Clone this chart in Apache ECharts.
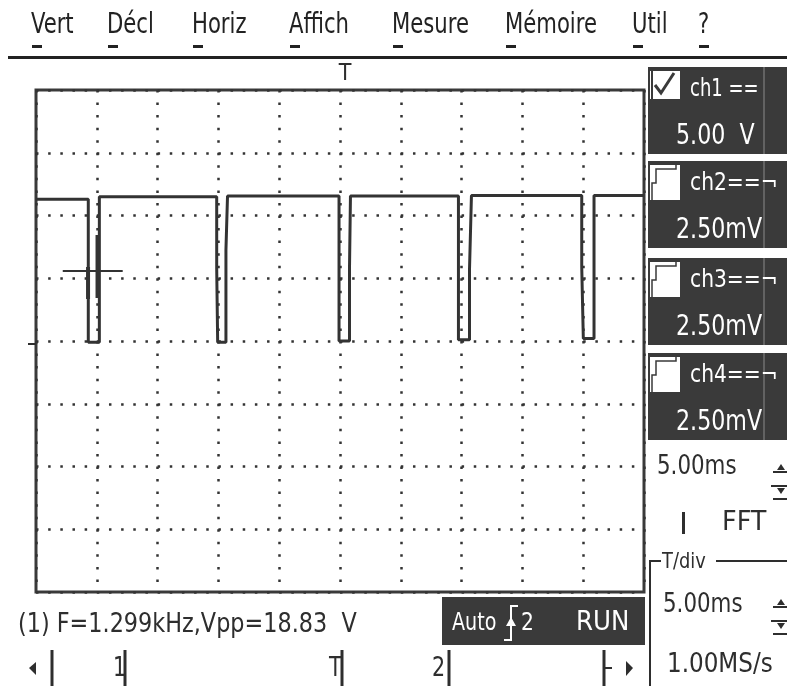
<!DOCTYPE html>
<html>
<head>
<meta charset="utf-8">
<script src="https://cdn.jsdelivr.net/npm/echarts@6/dist/echarts.min.js"></script>
<style>
html,body{margin:0;padding:0;background:#fff;}
#c{width:787px;height:686px;}
</style>
</head>
<body>
<div id="c"></div>
<script>
// ---- data (time in ms, 5 ms/div; voltage in V, 5 V/div) ----
var times = [0, 4.30, 4.30, 5.21, 5.21, 14.86, 14.86, 14.94, 14.94, 15.62, 15.62, 15.75, 15.75,
             24.92, 24.92, 25.78, 25.78, 25.86, 25.86, 34.74, 34.74, 35.65, 35.65, 35.81, 35.81,
             44.88, 44.88, 45.01, 45.01, 45.89, 45.89, 50];
var volts = [11.3, 11.3, -0.1, -0.1, 11.5, 11.5, 5.8, 5.8, -0.1, -0.1, 7.25, 7.25, 11.55,
             11.55, 0, 0, 5.7, 5.7, 11.55, 11.55, 0.1, 0.1, 5.7, 5.7, 11.6,
             11.6, 5.9, 5.9, 0.2, 0.2, 11.6, 11.6];
var cursorTimes = [2.2, 7.13];
var cursorLevel = 5.58;
var barTimes = [4.28, 5.06];
var barTop = [5.9, 8.45];
var barBottom = [3.35, 3.43];
var menuItems = ['Vert', 'Décl', 'Horiz', 'Affich', 'Mesure', 'Mémoire', 'Util', '?'];
var channels = ['ch1 ==', 'ch2==¬', 'ch3==¬', 'ch4==¬'];
var channelScales = ['5.00  V', '2.50mV', '2.50mV', '2.50mV'];
var measureText = '(1) F=1.299kHz,Vpp=18.83  V';
var timeDiv = '5.00ms';
var sampleRate = '1.00MS/s';

var F = "'Liberation Sans Narrow','DejaVu Sans Condensed','Arial Narrow',sans-serif";
var DARK = '#3a3a3a';
var INK = '#2e2e2e';

var wave = times.map(function (t, i) { return [t, volts[i]]; });
var cursorData = [[cursorTimes[0], cursorLevel], [cursorTimes[1], cursorLevel]];
var barData = [];
barTimes.forEach(function (t, i) {
  barData.push([t, barBottom[i]], [t, barTop[i]], [t, '-']);
});

var g = [];
function txt(x, y, s, size, color, sx, align) {
  g.push({type: 'text', x: x, y: y, scaleX: sx || 1,
    style: {text: s, font: size + 'px ' + F, fill: color, verticalAlign: 'middle', align: align || 'left'}});
}
// menu
var menuX = [31, 107, 192, 289, 392, 505, 632, 698];
menuItems.forEach(function (m, i) {
  txt(menuX[i], 26, m, 28, '#222', 0.84);
  g.push({type: 'rect', shape: {x: menuX[i] + 1, y: 45, width: 10, height: 3}, style: {fill: '#222'}});
});
g.push({type: 'rect', shape: {x: 8, y: 56, width: 779, height: 3}, style: {fill: '#222'}});
// trigger T
txt(345, 74, 'T', 23, INK, 1, 'center');
// ground marker
g.push({type: 'rect', shape: {x: 28, y: 343, width: 8, height: 2}, style: {fill: INK}});

// channel boxes
var boxY = [67, 161, 258, 353];
channels.forEach(function (c, i) {
  var y = boxY[i];
  g.push({type: 'rect', shape: {x: 648, y: y, width: 139, height: 87}, style: {fill: DARK}});
  g.push({type: 'line', shape: {x1: 764, y1: y, x2: 764, y2: y + 87}, style: {stroke: '#8a8a8a', lineWidth: 1}});
  g.push({type: 'rect', shape: {x: 650, y: y + 4, width: 30, height: i === 0 ? 28 : 35}, style: {fill: '#fff'}});
  if (i === 0) {
    g.push({type: 'polyline', shape: {points: [[655, 85], [661, 93], [674, 73]]}, style: {stroke: DARK, lineWidth: 3, fill: null}});
    g.push({type: 'line', shape: {x1: 652, y1: 71, x2: 652, y2: 99}, style: {stroke: DARK, lineWidth: 2}});
  } else {
    g.push({type: 'polyline', shape: {points: [[652, y + 40], [652, y + 22], [656, y + 22], [656, y + 8], [676, y + 8], [676, y + 4]]}, style: {stroke: DARK, lineWidth: 1.5, fill: null}});
  }
  txt(690, y + 22, c, 25, '#fff', i === 0 ? 0.8 : 0.9);
  txt(676, y + 70, channelScales[i], 28, '#fff', 0.88);
});

function knob(y) {
  g.push({type: 'rect', shape: {x: 773, y: y + 8, width: 14, height: 2}, style: {fill: INK}});
  g.push({type: 'polygon', shape: {points: [[777, y + 7], [781, y + 1], [785, y + 7]]}, style: {fill: INK}});
  g.push({type: 'rect', shape: {x: 771, y: y + 22, width: 16, height: 2}, style: {fill: INK}});
  g.push({type: 'polygon', shape: {points: [[777, y + 25], [781, y + 31], [785, y + 25]]}, style: {fill: INK}});
  g.push({type: 'rect', shape: {x: 773, y: y + 35, width: 14, height: 2}, style: {fill: INK}});
}
txt(657, 467, timeDiv, 27, INK, 0.88);
knob(463);
g.push({type: 'rect', shape: {x: 682, y: 512, width: 3, height: 22}, style: {fill: INK}});
txt(722, 523, 'FFT', 27, INK, 1.05);
g.push({type: 'polyline', shape: {points: [[650, 686], [650, 561], [661, 561]]}, style: {stroke: INK, lineWidth: 2, fill: null}});
g.push({type: 'line', shape: {x1: 716, y1: 561, x2: 787, y2: 561}, style: {stroke: INK, lineWidth: 2}});
txt(662, 562, 'T/div', 22, INK, 0.9);
txt(663, 605, timeDiv, 27, INK, 0.88);
knob(598);
txt(667, 665, sampleRate, 27, INK, 0.95);

// bottom measurement
txt(18, 625, measureText, 27, INK, 0.92);
// Auto box
g.push({type: 'rect', shape: {x: 442, y: 597, width: 203, height: 48}, style: {fill: DARK}});
txt(452, 623, 'Auto', 25, '#fff', 0.85);
g.push({type: 'polyline', shape: {points: [[504, 640], [511, 640], [511, 606], [518, 606]]}, style: {stroke: '#fff', lineWidth: 2, fill: null}});
g.push({type: 'polygon', shape: {points: [[506, 626], [511, 617], [516, 626]]}, style: {fill: '#fff'}});
txt(521, 623, '2', 25, '#fff', 0.9);
txt(576, 623, 'RUN', 26, '#fff', 1.05);
// bottom row
[52, 125, 342, 449, 604].forEach(function (x) {
  g.push({type: 'rect', shape: {x: x - 1.5, y: 650, width: 3, height: 36}, style: {fill: INK}});
});
g.push({type: 'polygon', shape: {points: [[36, 662], [29, 668], [36, 675]]}, style: {fill: INK}});
g.push({type: 'polygon', shape: {points: [[626, 661], [633, 668], [626, 676]]}, style: {fill: INK}});
g.push({type: 'rect', shape: {x: 604, y: 667, width: 8, height: 2}, style: {fill: INK}});
txt(113, 669, '1', 27, INK, 0.85);
txt(329, 669, 'T', 27, INK, 0.85);
txt(432, 669, '2', 27, INK, 0.85);

var dotted = function (period) {
  return {show: true, lineStyle: {color: '#333', width: 2.5, type: [2.5, period - 2.5]}};
};

var chart = echarts.init(document.getElementById('c'), null, {renderer: 'canvas'});
chart.setOption({
  animation: false,
  backgroundColor: '#fff',
  grid: {left: 36, top: 90, width: 608, height: 502, show: true, borderColor: DARK, borderWidth: 3, backgroundColor: 'transparent'},
  xAxis: {type: 'value', min: 0, max: 50, interval: 5,
    axisLine: {show: false}, axisTick: {show: false}, axisLabel: {show: false},
    splitLine: dotted(502 / 8 / 5)},
  yAxis: {type: 'value', min: -20, max: 20, interval: 5,
    axisLine: {show: false}, axisTick: {show: false}, axisLabel: {show: false},
    splitLine: dotted(608 / 10 / 5)},
  series: [
    {type: 'line', data: wave, symbol: 'none', lineStyle: {color: '#333', width: 3}, z: 3},
    {type: 'line', data: cursorData, symbol: 'none', lineStyle: {color: '#333', width: 2}, z: 4},
    {type: 'line', data: barData, symbol: 'none', connectNulls: false, lineStyle: {color: '#333', width: 4}, z: 4}
  ],
  graphic: g
});
</script>
</body>
</html>
